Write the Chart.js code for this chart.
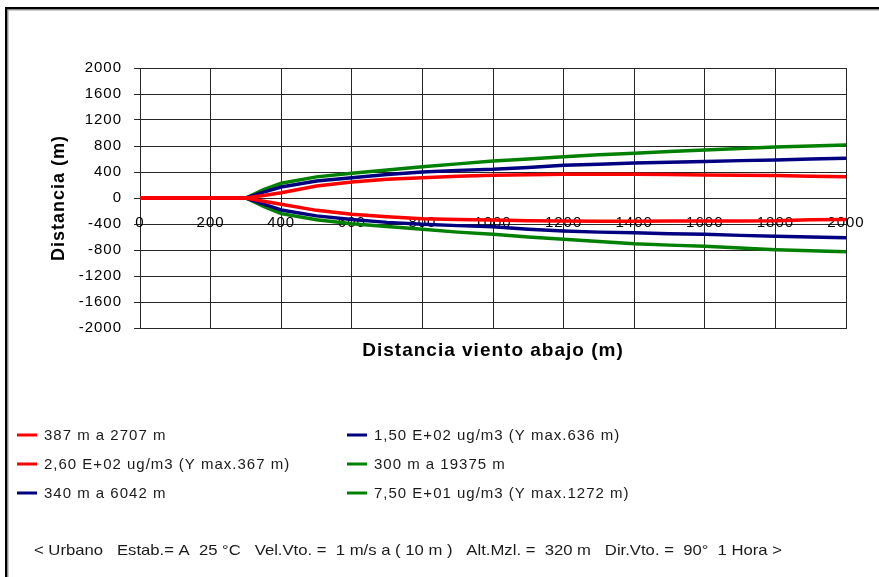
<!DOCTYPE html>
<html>
<head>
<meta charset="utf-8">
<title>Distancia viento abajo</title>
<script src="https://cdn.jsdelivr.net/npm/chart.js@4.4.1/dist/chart.umd.min.js"></script>
<style>
  html, body { margin: 0; padding: 0; background: #ffffff; overflow: hidden; }
  canvas { display: block; }
</style>
</head>
<body>
<canvas id="plume" width="879" height="577"></canvas>
<script>
// Downwind distance (m) at which each isopleth half-width was sampled
const distances = [0, 300, 350, 400, 500, 600, 700, 800, 900, 1000, 1100, 1200, 1300, 1400, 1500, 1600, 1700, 1800, 1900, 2000];

// Crosswind half-widths (m) of the three isopleths, lower and upper edges
const redLower   = [0, 0, -50, -97, -190, -251, -290, -318, -330, -340, -350, -354, -356, -357, -355, -354, -352, -350, -335, -330];
const redUpper   = [0, 0, 40, 82, 185, 246, 287, 313, 335, 350, 358, 364, 366, 367, 360, 355, 350, 345, 333, 328];
const blueLower  = [0, 0, -95, -185, -275, -330, -375, -405, -425, -441, -480, -508, -525, -535, -550, -559, -575, -590, -600, -610];
const blueUpper  = [0, 0, 90, 170, 260, 313, 360, 400, 425, 441, 470, 503, 520, 540, 550, 560, 575, 585, 600, 610];
const greenLower = [0, 0, -130, -240, -335, -395, -440, -482, -525, -559, -600, -636, -670, -705, -725, -744, -770, -795, -810, -826];
const greenUpper = [0, 0, 130, 226, 325, 380, 430, 480, 525, 569, 600, 636, 665, 690, 715, 738, 760, 785, 800, 815];

// Series names as shown in the legend
const seriesLabels = [
  '387 m a 2707 m',
  '2,60 E+02 ug/m3 (Y max.367 m)',
  '340 m a 6042 m',
  '1,50 E+02 ug/m3 (Y max.636 m)',
  '300 m a 19375 m',
  '7,50 E+01 ug/m3 (Y max.1272 m)'
];
const seriesValues = [redLower, redUpper, blueLower, blueUpper, greenLower, greenUpper];
const seriesColors = ['#ff0000', '#ff0000', '#000080', '#000080', '#008000', '#008000'];

// Axis ranges and tick steps
const xMin = 0, xMax = 2000, xStep = 200;
const yMin = -2000, yMax = 2000, yStep = 400;

const xTitle = 'Distancia viento abajo (m)';
const yTitle = 'Distancia (m)';
const footerText = '< Urbano   Estab.= A  25 \u00b0C   Vel.Vto. =  1 m/s a ( 10 m )   Alt.Mzl. =  320 m   Dir.Vto. =  90\u00b0  1 Hora >';

const FONT = "'Liberation Sans', Arial, sans-serif";
const GRID = '#262626';

Chart.defaults.font.family = FONT;
Chart.defaults.color = '#000000';

const datasets = seriesLabels.map((label, i) => ({
  label: label,
  data: distances.map((d, j) => ({ x: d, y: seriesValues[i][j] })),
  borderColor: seriesColors[i],
  backgroundColor: seriesColors[i],
  borderWidth: 3.5,
  pointRadius: 0,
  tension: 0,
  fill: false,
  xAxisID: 'x',
  yAxisID: 'y'
}));

// Slightly wider letter spacing, like small hinted screen text
const spacingPlugin = {
  id: 'spacing',
  beforeDraw(chart) { chart.ctx.letterSpacing = '1px'; }
};

// Outer frame, two-column legend and the run conditions line
const decorPlugin = {
  id: 'decor',
  afterDraw(chart) {
    const ctx = chart.ctx;
    ctx.save();

    // frame (top and left edges)
    ctx.fillStyle = '#000000';
    ctx.fillRect(5, 7, 874, 2.5);
    ctx.fillRect(5, 7, 2.5, 570);
    ctx.fillStyle = '#9a9a9a';
    ctx.fillRect(7.5, 9.5, 872, 1);
    ctx.fillRect(7.5, 9.5, 1, 568);

    // legend, filled column by column
    const colX = [17, 347];
    const rowY = [435, 464, 493];
    ctx.font = '15px ' + FONT;
    ctx.textBaseline = 'middle';
    ctx.textAlign = 'left';
    chart.data.datasets.forEach((ds, i) => {
      const col = Math.floor(i / 3), row = i % 3;
      const x = colX[col], y = rowY[row];
      ctx.strokeStyle = ds.borderColor;
      ctx.lineWidth = 3;
      ctx.beginPath();
      ctx.moveTo(x, y);
      ctx.lineTo(x + 20, y);
      ctx.stroke();
      ctx.fillStyle = '#1a1a1a';
      ctx.fillText(ds.label, x + 27, y + 0.5);
    });

    // run conditions
    ctx.letterSpacing = '0px';
    ctx.font = '15px ' + FONT;
    const w = ctx.measureText(footerText).width;
    const target = 748;
    ctx.translate(34, 551);
    ctx.scale(target / w, 1);
    ctx.fillStyle = '#1a1a1a';
    ctx.fillText(footerText, 0, 0);

    ctx.restore();
  }
};

new Chart(document.getElementById('plume'), {
  type: 'line',
  data: { datasets: datasets },
  options: {
    responsive: false,
    animation: false,
    events: [],
    layout: { padding: { left: 0, top: 68, right: 33, bottom: 209 } },
    plugins: {
      legend: { display: false },
      tooltip: { enabled: false }
    },
    scales: {
      x: {
        type: 'linear',
        axis: 'x',
        position: 'bottom',
        min: xMin,
        max: xMax,
        ticks: { display: false, stepSize: xStep },
        grid: { color: GRID, lineWidth: 1, drawTicks: false },
        border: { display: true, color: GRID, width: 1 },
        title: {
          display: true,
          text: xTitle,
          color: '#000000',
          font: { family: FONT, size: 19, weight: 'bold' },
          padding: { top: 0, bottom: 6 }
        },
        afterFit(scale) { scale.height = 40; }
      },
      y: {
        type: 'linear',
        position: 'left',
        min: yMin,
        max: yMax,
        ticks: {
          stepSize: yStep,
          color: '#000000',
          font: { family: FONT, size: 15 },
          padding: 12,
          callback: (v) => String(v)
        },
        grid: { color: GRID, lineWidth: 1, drawTicks: true, tickLength: 6, tickColor: GRID },
        border: { display: true, color: GRID, width: 1 },
        title: {
          display: true,
          text: yTitle,
          color: '#000000',
          font: { family: FONT, size: 18, weight: 'bold' },
          padding: { top: 48, bottom: 0 }
        },
        afterFit(scale) { scale.width = 140; }
      },
      // distance labels sitting just under the zero line
      xLabels: {
        type: 'linear',
        axis: 'x',
        position: { y: 0 },
        min: xMin,
        max: xMax,
        z: 1,
        ticks: {
          stepSize: xStep,
          color: '#000000',
          font: { family: FONT, size: 15 },
          padding: 16,
          maxRotation: 0,
          autoSkip: false,
          callback: (v) => String(v)
        },
        grid: { display: false, drawTicks: false },
        border: { display: false }
      }
    }
  },
  plugins: [spacingPlugin, decorPlugin]
});
</script>
</body>
</html>
